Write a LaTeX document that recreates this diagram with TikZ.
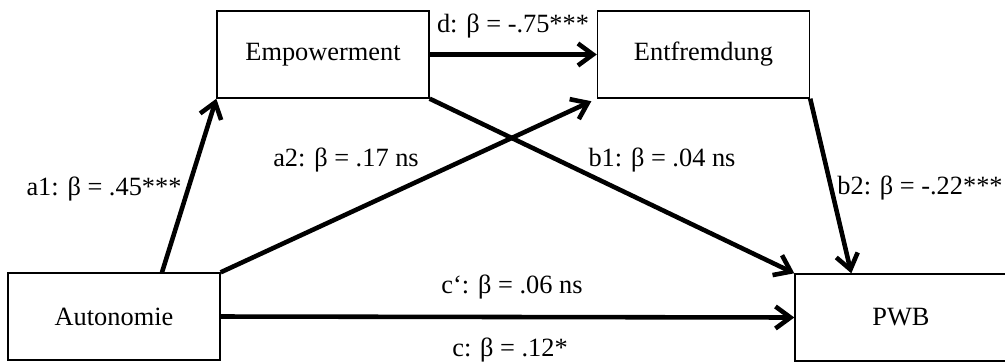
\documentclass[tikz,border=0pt]{standalone}
\usepackage{fontspec}
\setmainfont{Liberation Serif}
\usetikzlibrary{arrows.meta,positioning}
\tikzset{
  varbox/.style={draw=black,fill=white,line width=0.8pt,minimum width=4.24cm,
                 minimum height=1.74cm,inner sep=0pt,align=center,
                 font=\fontsize{15}{18}\selectfont},
  patharr/.style={-{Straight Barb[length=3mm,width=4.4mm]},line width=2.6pt,
                  draw=black},
  coef/.style={anchor=base,inner sep=0pt,font=\fontsize{15}{18}\selectfont}
}
\begin{document}
\begin{tikzpicture}[x=1cm,y=1cm]
    \path[use as bounding box] (0,0) rectangle (20.1,7.26);
    \node[varbox] (emp) at (6.46,6.17) {Empowerment};
    \node[varbox] (entf) at (14.07,6.17) {Entfremdung};
    \node[varbox] (auto) at (2.28,0.93) {Autonomie};
    \node[varbox] (pwb) at (18.02,0.91) {PWB};
    \draw[patharr] ([xshift=0.96cm]auto.north) -- (emp.south west);
    \draw[patharr,shorten >=0.12cm] (auto.north east) -- (entf.south west);
    \draw[patharr] (emp.south east) -- (pwb.north west);
    \draw[patharr] (entf.south east) -- ([xshift=1.14cm]pwb.north west);
    \draw[patharr] (emp.east) -- (entf.west);
    \draw[patharr] (auto.east) -- (pwb.west);
    \node[coef] (cd) at (10.26,6.62) {d: β = -.75***};
    \node[coef] (ca1) at (2.08,3.36) {a1: β = .45***};
    \node[coef] (ca2) at (6.92,3.94) {a2: β = .17 ns};
    \node[coef] (cb1) at (13.24,3.94) {b1: β = .04 ns};
    \node[coef] (cb2) at (18.40,3.38) {b2: β = -.22***};
    \node[coef] (ccp) at (10.24,1.40) {c‘: β = .06 ns};
    \node[coef] (cc) at (10.20,0.14) {c: β = .12*};
  \end{tikzpicture}
\end{document}
